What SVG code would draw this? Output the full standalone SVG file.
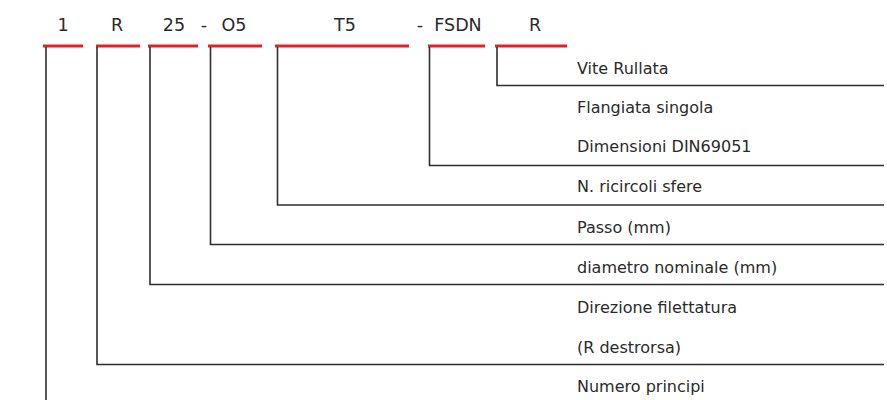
<svg xmlns="http://www.w3.org/2000/svg" width="887" height="400" viewBox="0 0 887 400">
<style>
text{font-family:"DejaVu Sans","Liberation Sans",sans-serif;font-size:16px;fill:#2a2a2a}
.code{text-anchor:middle;font-size:17.5px}
.red{stroke:#e32228;stroke-width:3;fill:none}
.conn{stroke:#2e2e2e;stroke-width:1.6;fill:none}
</style>
<rect width="887" height="400" fill="#fff"/>
<g id="codes">
<text class="code" x="63" y="31">1</text>
<text class="code" x="117" y="31">R</text>
<text class="code" x="174" y="31">25</text>
<text class="code" x="204" y="31">-</text>
<text class="code" x="234" y="31">O5</text>
<text class="code" x="345" y="31">T5</text>
<text class="code" x="420" y="31">-</text>
<text class="code" x="458" y="31">FSDN</text>
<text class="code" x="535" y="31">R</text>
</g>
<g id="underlines">
<line class="red" x1="43" y1="46" x2="83" y2="46"/>
<line class="red" x1="96" y1="46" x2="140" y2="46"/>
<line class="red" x1="148" y1="46" x2="198" y2="46"/>
<line class="red" x1="208" y1="46" x2="262" y2="46"/>
<line class="red" x1="275" y1="46" x2="409" y2="46"/>
<line class="red" x1="428" y1="46" x2="485" y2="46"/>
<line class="red" x1="495" y1="46" x2="567" y2="46"/>
</g>
<g id="connectors">
<polyline class="conn" points="46,47 46,400"/>
<polyline class="conn" points="97,47 97,364.5 884,364.5"/>
<polyline class="conn" points="150,47 150,284.5 884,284.5"/>
<polyline class="conn" points="210.5,47 210.5,244.5 884,244.5"/>
<polyline class="conn" points="277.5,47 277.5,205 884,205"/>
<polyline class="conn" points="429.5,47 429.5,165.5 884,165.5"/>
<polyline class="conn" points="497,47 497,85.5 884,85.5"/>
</g>
<g id="labels">
<text x="577" y="74">Vite Rullata</text>
<text x="577" y="113">Flangiata singola</text>
<text x="577" y="152">Dimensioni DIN69051</text>
<text x="577" y="192">N. ricircoli sfere</text>
<text x="577" y="233">Passo (mm)</text>
<text x="577" y="273">diametro nominale (mm)</text>
<text x="577" y="313">Direzione filettatura</text>
<text x="577" y="353">(R destrorsa)</text>
<text x="577" y="392">Numero principi</text>
</g>
</svg>
